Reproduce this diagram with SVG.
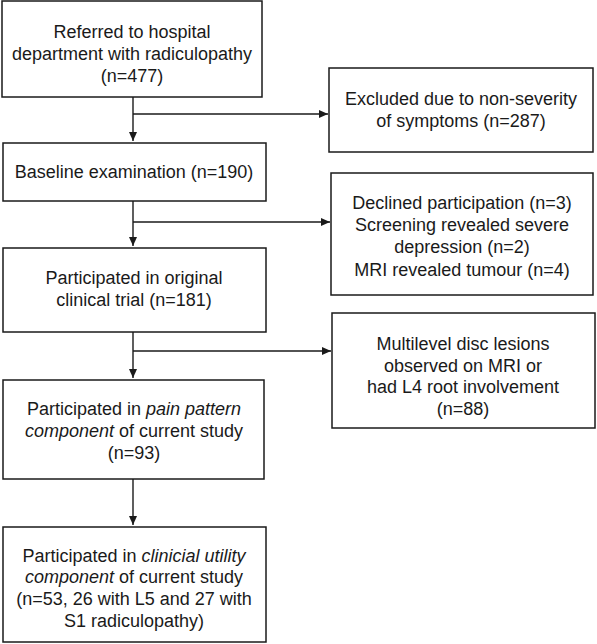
<svg xmlns="http://www.w3.org/2000/svg" width="597" height="644" viewBox="0 0 597 644">
<style>
.box{fill:#ffffff;stroke:#1a1a1a;stroke-width:1.5}
.t{font-family:"Liberation Sans",Arial,sans-serif;font-size:18px;fill:#1a1a1a;text-anchor:middle}
.c{fill:none;stroke:#1a1a1a;stroke-width:1.4}
</style>
<defs>
<marker id="ah" markerUnits="userSpaceOnUse" markerWidth="10" markerHeight="8" refX="9" refY="4" orient="auto">
<path d="M0,0 L9,4 L0,8 z" fill="#1a1a1a"/>
</marker>
</defs>
<rect width="597" height="644" fill="#ffffff"/>
<g id="connectors">
<path class="c" d="M133,97 L133,141" marker-end="url(#ah)"/>
<path class="c" d="M133,114 L328,114" marker-end="url(#ah)"/>
<path class="c" d="M133,201 L133,246" marker-end="url(#ah)"/>
<path class="c" d="M133,222 L330,222" marker-end="url(#ah)"/>
<path class="c" d="M133,332 L133,378" marker-end="url(#ah)"/>
<path class="c" d="M133,351 L331,351" marker-end="url(#ah)"/>
<path class="c" d="M133,479 L133,525" marker-end="url(#ah)"/>
</g>
<g id="referred">
<rect class="box" x="2" y="1" width="260" height="96"/>
<text class="t" x="132" y="38">Referred to hospital</text>
<text class="t" x="132" y="60">department with radiculopathy</text>
<text class="t" x="132" y="82">(n=477)</text>
</g>
<g id="excluded">
<rect class="box" x="329" y="68" width="264" height="84"/>
<text class="t" x="461" y="105">Excluded due to non-severity</text>
<text class="t" x="461" y="127">of symptoms (n=287)</text>
</g>
<g id="baseline">
<rect class="box" x="3" y="143" width="263" height="58"/>
<text class="t" x="134" y="178">Baseline examination (n=190)</text>
</g>
<g id="declined">
<rect class="box" x="331" y="173" width="262" height="122"/>
<text class="t" x="462" y="209">Declined participation (n=3)</text>
<text class="t" x="462" y="231">Screening revealed severe</text>
<text class="t" x="462" y="253">depression (n=2)</text>
<text class="t" x="462" y="276">MRI revealed tumour (n=4)</text>
</g>
<g id="original">
<rect class="box" x="3" y="248" width="263" height="84"/>
<text class="t" x="134" y="284">Participated in original</text>
<text class="t" x="134" y="306">clinical trial (n=181)</text>
</g>
<g id="multilevel">
<rect class="box" x="332" y="313" width="263" height="115"/>
<text class="t" x="463" y="350">Multilevel disc lesions</text>
<text class="t" x="463" y="372">observed on MRI or</text>
<text class="t" x="463" y="393">had L4 root involvement</text>
<text class="t" x="463" y="415">(n=88)</text>
</g>
<g id="painpattern">
<rect class="box" x="3" y="380" width="261" height="99"/>
<text class="t" x="134" y="415">Participated in <tspan font-style="italic">pain pattern</tspan></text>
<text class="t" x="134" y="437"><tspan font-style="italic">component</tspan> of current study</text>
<text class="t" x="134" y="459">(n=93)</text>
</g>
<g id="utility">
<rect class="box" x="3" y="527" width="263" height="115"/>
<text class="t" x="134" y="562">Participated in <tspan font-style="italic">clinicial utility</tspan></text>
<text class="t" x="134" y="583"><tspan font-style="italic">component</tspan> of current study</text>
<text class="t" x="134" y="605">(n=53, 26 with L5 and 27 with</text>
<text class="t" x="134" y="627">S1 radiculopathy)</text>
</g>
</svg>
